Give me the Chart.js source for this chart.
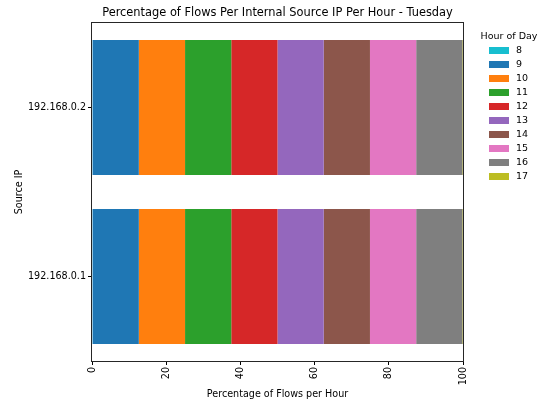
<!DOCTYPE html>
<html>
<head>
<meta charset="utf-8">
<script src="https://cdn.jsdelivr.net/npm/chart.js@4.4.1/dist/chart.umd.min.js"></script>
<style>
  html, body { margin: 0; padding: 0; background: #fff; }
  #flowChart { display: block; }
</style>
</head>
<body>
<canvas id="flowChart" width="544" height="403"></canvas>
<script>
// Source IPs, top to bottom as drawn
const sourceIPs = ["192.168.0.2", "192.168.0.1"]
const hourLabels = ["8", "9", "10", "11", "12", "13", "14", "15", "16", "17"]
const hourColors = ["#17becf", "#1f77b4", "#ff7f0e", "#2ca02c", "#d62728",
  "#9467bd", "#8c564b", "#e377c2", "#7f7f7f", "#bcbd22"]

// Percentage of flows per hour, one entry per hour (8..17)
const flows_192_168_0_2 = [0.16, 12.46, 12.46, 12.46, 12.46, 12.46, 12.46, 12.46, 12.46, 0.16]
const flows_192_168_0_1 = [0.16, 12.46, 12.46, 12.46, 12.46, 12.46, 12.46, 12.46, 12.46, 0.16]

const xTicks = [0, 20, 40, 60, 80, 100]

const chartTitle = "Percentage of Flows Per Internal Source IP Per Hour - Tuesday"
const FONT = "DejaVu Sans"

const datasets = hourLabels.map((hour, i) => ({
  label: hour,
  data: [flows_192_168_0_2[i], flows_192_168_0_1[i]],
  backgroundColor: hourColors[i],
  borderWidth: 0,
  barPercentage: 0.8,
  categoryPercentage: 1.0,
}))

// Frame, title over the plot area and legend outside the plot, matplotlib style
const framePlugin = {
  id: "frameAndLegend",
  afterDraw(chart) {
    const { ctx, chartArea } = chart
    ctx.save()
    ctx.strokeStyle = "#262626"
    ctx.lineWidth = 1
    ctx.strokeRect(Math.round(chartArea.left) - 0.5, Math.round(chartArea.top) - 0.5,
      Math.round(chartArea.right - chartArea.left) + 1, Math.round(chartArea.bottom - chartArea.top) + 1)

    // title
    ctx.fillStyle = "#000"
    ctx.textBaseline = "middle"
    ctx.textAlign = "center"
    ctx.font = "11.4px " + FONT
    ctx.fillText(chartTitle, (chartArea.left + chartArea.right) / 2, 13.5)

    // legend
    ctx.font = "9.5px " + FONT
    ctx.fillText("Hour of Day", 509, 36.5)
    ctx.textAlign = "left"
    hourLabels.forEach((hour, i) => {
      const y = 50.5 + i * 14
      ctx.fillStyle = hourColors[i]
      ctx.fillRect(489, y - 3.5, 20, 7)
      ctx.fillStyle = "#000"
      ctx.fillText(hour, 516, y)
    })
    ctx.restore()
  },
}

new Chart(document.getElementById("flowChart"), {
  type: "bar",
  data: { labels: sourceIPs, datasets: datasets },
  options: {
    indexAxis: "y",
    responsive: false,
    animation: false,
    devicePixelRatio: 1,
    layout: { padding: { left: 0, right: 81, top: 23, bottom: 0 } },
    plugins: {
      legend: { display: false },
      tooltip: { enabled: false },
      title: { display: false },
    },
    scales: {
      x: {
        type: "linear",
        stacked: true,
        min: 0,
        max: 100,
        afterBuildTicks: (scale) => { scale.ticks = xTicks.map((v) => ({ value: v })) },
        afterFit: (scale) => { scale.height = 42 },
        border: { display: false },
        grid: { drawOnChartArea: false, drawTicks: true, tickLength: 4, tickColor: "#000", lineWidth: 1 },
        ticks: {
          minRotation: 90,
          maxRotation: 90,
          padding: 2,
          color: "#000",
          font: { family: FONT, size: 9.6 },
        },
        title: {
          display: true,
          text: "Percentage of Flows per Hour",
          color: "#000",
          font: { family: FONT, size: 9.6 },
          padding: { top: 0, bottom: 3 },
        },
      },
      y: {
        type: "category",
        stacked: true,
        afterFit: (scale) => { scale.width = 92 },
        border: { display: false },
        grid: { offset: false, drawOnChartArea: false, drawTicks: true, tickLength: 4, tickColor: "#000", lineWidth: 1 },
        ticks: {
          padding: 2,
          color: "#000",
          font: { family: FONT, size: 9.6 },
        },
        title: {
          display: true,
          text: "Source IP",
          color: "#000",
          font: { family: FONT, size: 9.6 },
          padding: { top: 14, bottom: 0 },
        },
      },
    },
  },
  plugins: [framePlugin],
})
</script>
</body>
</html>
